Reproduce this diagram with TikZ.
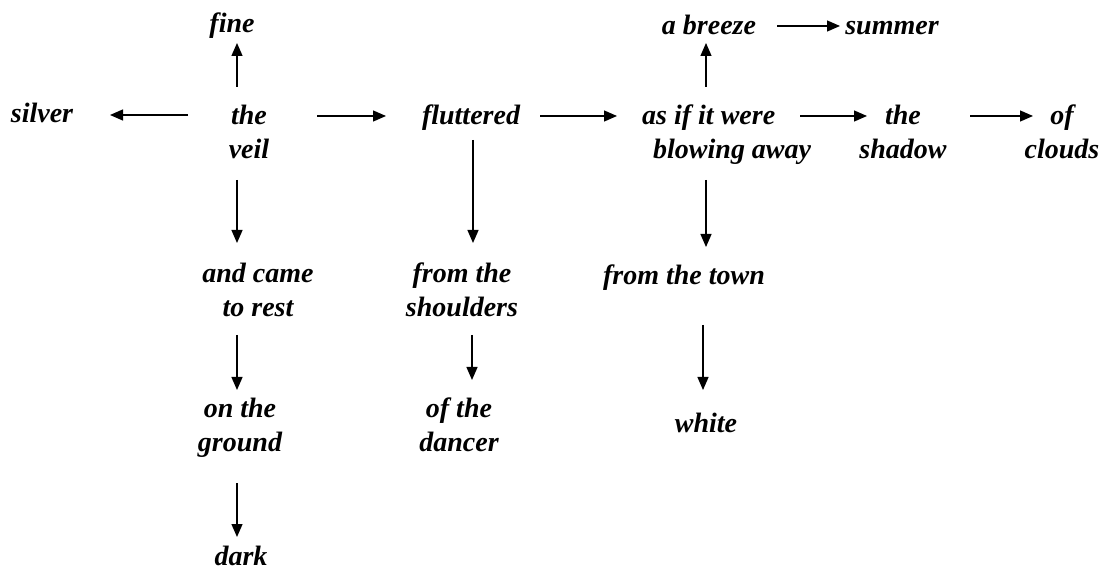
\documentclass[tikz,border=0pt]{standalone}
\usepackage{fontspec}
\setmainfont{Liberation Serif}
\usetikzlibrary{arrows.meta}
\begin{document}
\begin{tikzpicture}[x=1pt,y=-1pt,
  word/.style={anchor=base,inner sep=0pt,align=center,font=\bfseries\itshape\fontsize{28}{34}\selectfont},
  arr/.style={line width=1.3pt,-{Triangle[length=13pt,width=11pt]}}]
\useasboundingbox (0,0) rectangle (1104,569);
% nodes (positioned at last-line baseline)
\node[word] (fine) at (232,33) {fine};
\node[word] (silver) at (42,123) {silver};
\node[word] (veil) at (249,159) {the\\veil};
\node[word] (flut) at (471,125) {fluttered};
\node[word,anchor=base west,align=left] (asif) at (642,159) {as if it were\\\hspace*{11pt}blowing away};
\node[word] (breeze) at (709,35) {a breeze};
\node[word] (summer) at (892,35) {summer};
\node[word] (shadow) at (903,159) {the\\shadow};
\node[word] (clouds) at (1062,159) {of\\clouds};
\node[word] (came) at (258,317) {and came\\to rest};
\node[word] (should) at (462,317) {from the\\shoulders};
\node[word] (town) at (684,285) {from the town};
\node[word] (ground) at (240,451) {on the\\ground};
\node[word] (dancer) at (459,451) {of the\\dancer};
\node[word] (white) at (706,433) {white};
\node[word] (dark) at (241,565) {dark};
% connectors
\draw[arr] ([shift={(-12,-72)}]veil.base) -- ([shift={(5,10)}]fine.base);
\draw[arr] ([shift={(-61,-44)}]veil.base) -- ([shift={(68,-8)}]silver.base);
\draw[arr] ([shift={(68,-43)}]veil.base) -- ([shift={(-85,-9)}]flut.base);
\draw[arr] ([shift={(69,-9)}]flut.base) -- ([shift={(-25,-43)}]asif.base west);
\draw[arr] ([shift={(64,-72)}]asif.base west) -- ([shift={(-3,8)}]breeze.base);
\draw[arr] ([shift={(68,-9)}]breeze.base) -- ([shift={(-52,-9)}]summer.base);
\draw[arr] ([shift={(158,-43)}]asif.base west) -- ([shift={(-36,-43)}]shadow.base);
\draw[arr] ([shift={(67,-43)}]shadow.base) -- ([shift={(-29,-43)}]clouds.base);
\draw[arr] ([shift={(-12,21)}]veil.base) -- ([shift={(-21,-74)}]came.base);
\draw[arr] ([shift={(2,15)}]flut.base) -- ([shift={(11,-74)}]should.base);
\draw[arr] ([shift={(64,21)}]asif.base west) -- ([shift={(22,-38)}]town.base);
\draw[arr] ([shift={(-21,18)}]came.base) -- ([shift={(-3,-61)}]ground.base);
\draw[arr] ([shift={(10,18)}]should.base) -- ([shift={(13,-71)}]dancer.base);
\draw[arr] ([shift={(19,40)}]town.base) -- ([shift={(-3,-43)}]white.base);
\draw[arr] ([shift={(-3,32)}]ground.base) -- ([shift={(-4,-28)}]dark.base);
\end{tikzpicture}
\end{document}
